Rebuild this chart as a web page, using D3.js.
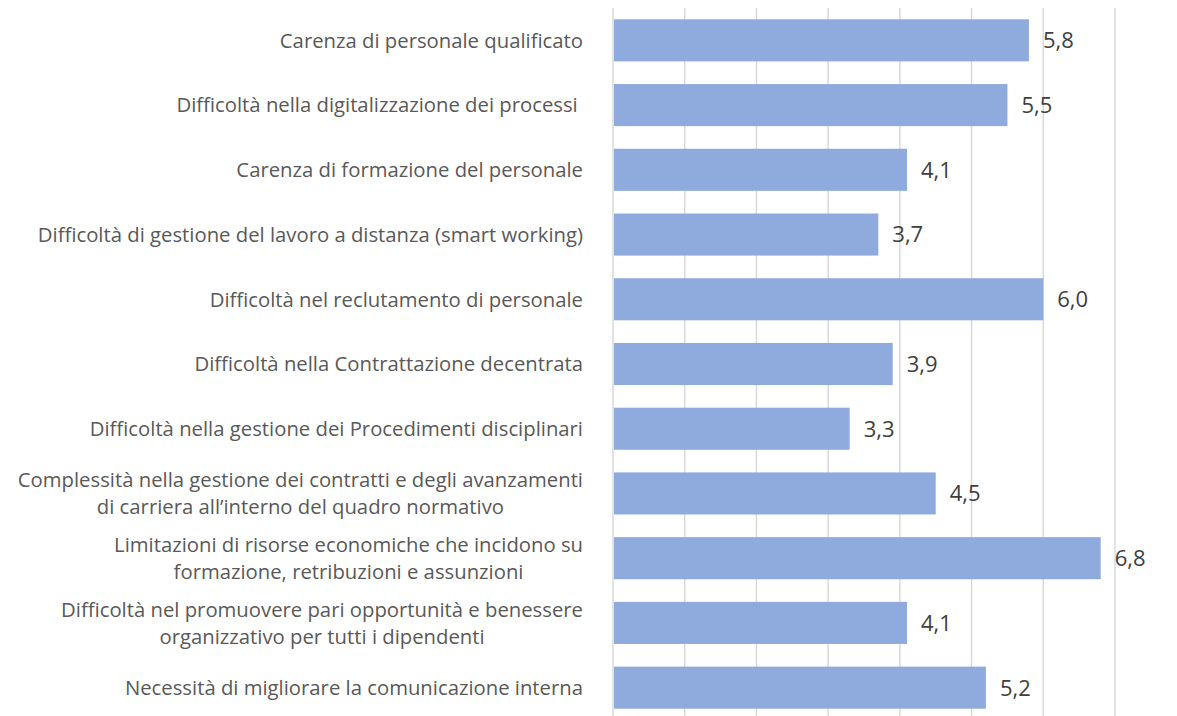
<!DOCTYPE html>
<html>
<head>
<meta charset="utf-8">
<script src="https://cdn.jsdelivr.net/npm/d3@7"></script>
<style>
  html, body { margin: 0; padding: 0; background: #fff; }
  svg { display: block; }
</style>
</head>
<body>
<svg width="1177" height="716"></svg>
<script>
var categories = [
  "Carenza di personale qualificato",
  "Difficoltà nella digitalizzazione dei processi ",
  "Carenza di formazione del personale",
  "Difficoltà di gestione del lavoro a distanza (smart working)",
  "Difficoltà nel reclutamento di personale",
  "Difficoltà nella Contrattazione decentrata",
  "Difficoltà nella gestione dei Procedimenti disciplinari",
  "Complessità nella gestione dei contratti e degli avanzamenti\ndi carriera all’interno del quadro normativo",
  "Limitazioni di risorse economiche che incidono su\nformazione, retribuzioni e assunzioni",
  "Difficoltà nel promuovere pari opportunità e benessere\norganizzativo per tutti i dipendenti",
  "Necessità di migliorare la comunicazione interna"
];
var values = [5.8, 5.5, 4.1, 3.7, 6.0, 3.9, 3.3, 4.5, 6.8, 4.1, 5.2];
var xTicks = [0, 1, 2, 3, 4, 5, 6, 7];

var svg = d3.select("svg"),
  plot = { left: 613, right: 1115, top: 8, bottom: 720 };

var it = d3.formatLocale({ decimal: ",", thousands: ".", grouping: [3], currency: ["€", ""] });
var fmt = it.format(".1f");

var x = d3.scaleLinear().domain([0, 7]).range([plot.left, plot.right]);
var y = d3.scaleBand().domain(categories).range([plot.top, plot.bottom])
  .paddingInner(0.35).paddingOuter(0.175);

// gridlines
svg.append("g")
  .selectAll("line")
  .data(xTicks)
  .enter().append("line")
  .attr("x1", d => x(d)).attr("x2", d => x(d))
  .attr("y1", plot.top).attr("y2", 716)
  .attr("stroke", "#d9d9d9")
  .attr("stroke-width", 1.5);

// bars
svg.append("g")
  .selectAll("rect")
  .data(values)
  .enter().append("rect")
  .attr("x", x(0) + 1)
  .attr("y", (d, i) => y(categories[i]))
  .attr("width", d => x(d) - x(0) - 1)
  .attr("height", y.bandwidth())
  .attr("fill", "#8faadc");

// value labels
svg.append("g")
  .selectAll("text")
  .data(values)
  .enter().append("text")
  .attr("x", d => x(d) + 14)
  .attr("y", (d, i) => y(categories[i]) + y.bandwidth() / 2)
  .attr("dy", "0.36em")
  .style("font", "22px 'Open Sans', sans-serif")
  .style("fill", "#404040")
  .text(d => fmt(d));

// category labels, multi-line ones centred on their widest line
var labelRight = plot.left - 30, lineH = 27;
var lab = svg.append("g")
  .selectAll("text")
  .data(categories)
  .enter().append("text")
  .style("font", "20.3px 'Open Sans', sans-serif")
  .style("fill", "#595959")
  .attr("xml:space", "preserve");

lab.each(function(d) {
  var t = d3.select(this), lines = d.split("\n");
  var cy = y(d) + y.bandwidth() / 2;
  var spans = lines.map((s, k) => t.append("tspan")
    .attr("y", cy + (k - (lines.length - 1) / 2) * lineH)
    .attr("dy", "0.36em")
    .text(s));
  var w = d3.max(spans, s => s.node().getComputedTextLength());
  spans.forEach(s => s.attr("x", labelRight - w / 2).attr("text-anchor", "middle"));
});
</script>
</body>
</html>
